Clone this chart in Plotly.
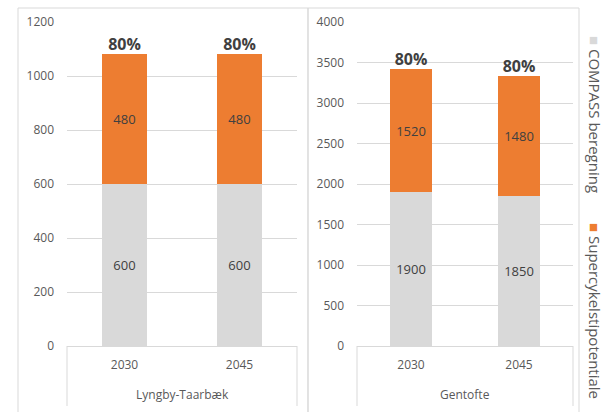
import plotly.graph_objects as go

# ---- data ----
years = ["2030", "2045"]
groups = ["Lyngby-Taarbæk", "Gentofte"]
series_names = ["COMPASS beregning", "Supercykelstipotentiale"]
compass = {"Lyngby-Taarbæk": [600, 600], "Gentofte": [1900, 1850]}
potential = {"Lyngby-Taarbæk": [480, 480], "Gentofte": [1520, 1480]}
pct_labels = {"Lyngby-Taarbæk": ["80%", "80%"], "Gentofte": ["80%", "80%"]}
y_ranges = {"Lyngby-Taarbæk": [0, 1200], "Gentofte": [0, 4000]}
y_dticks = {"Lyngby-Taarbæk": 200, "Gentofte": 500}

colors = ["#D9D9D9", "#ED7D31"]
W, H = 604, 412
FONT = "Open Sans"
TXT = "#595959"

def px(x):
    return x / W

def py(y):
    return 1 - y / H

x_domains = [[px(67), px(297)], [px(357), px(573)]]
y_domain = [py(346), py(22)]

fig = go.Figure()
for i, g in enumerate(groups):
    xa = "x" if i == 0 else "x2"
    ya = "y" if i == 0 else "y2"
    for s, vals, col in [(0, compass[g], colors[0]), (1, potential[g], colors[1])]:
        fig.add_trace(go.Bar(
            x=years, y=vals, name=series_names[s], marker_color=col,
            marker_line_width=0, width=0.39,
            text=[str(v) for v in vals], textposition="inside",
            insidetextanchor="middle", textangle=0, constraintext="none",
            textfont=dict(family=FONT, size=13, color="#404040"),
            xaxis=xa, yaxis=ya, showlegend=False, hoverinfo="skip",
        ))
    totals = [a + b for a, b in zip(compass[g], potential[g])]
    fig.add_trace(go.Scatter(
        x=years, y=totals, mode="text", text=pct_labels[g],
        textposition="top center",
        textfont=dict(family=FONT, size=16, color="#404040", weight="bold"),
        xaxis=xa, yaxis=ya, showlegend=False, hoverinfo="skip",
    ))

axis_common_x = dict(showline=True, linecolor="#D9D9D9", linewidth=1,
                     showgrid=False, ticks="", ticklabelstandoff=8,
                     tickfont=dict(family=FONT, size=12, color=TXT),
                     fixedrange=True, automargin=False)
axis_common_y = dict(showgrid=True, gridcolor="#D9D9D9", gridwidth=1,
                     zeroline=False, showline=False, ticks="",
                     ticklabelstandoff=12,
                     tickfont=dict(family=FONT, size=12, color=TXT),
                     domain=y_domain, fixedrange=True, automargin=False)

fig.update_layout(
    width=W, height=H, margin=dict(l=0, r=0, t=0, b=0, pad=0), autosize=False,
    paper_bgcolor="white", plot_bgcolor="white", barmode="stack",
    showlegend=False,
    xaxis=dict(domain=x_domains[0], anchor="y", **axis_common_x),
    xaxis2=dict(domain=x_domains[1], anchor="y2", **axis_common_x),
    yaxis=dict(anchor="x", range=y_ranges[groups[0]], dtick=y_dticks[groups[0]], **axis_common_y),
    yaxis2=dict(anchor="x2", range=y_ranges[groups[1]], dtick=y_dticks[groups[1]], **axis_common_y),
)

shapes = []
line = dict(color="#D9D9D9", width=1)
# panel borders
shapes.append(dict(type="rect", xref="paper", yref="paper", x0=px(18), x1=px(308), y0=py(420), y1=py(8), line=line))
shapes.append(dict(type="rect", xref="paper", yref="paper", x0=px(308), x1=px(579), y0=py(420), y1=py(8), line=line))
# category boxes
for xd in x_domains:
    for xv in xd:
        shapes.append(dict(type="line", xref="paper", yref="paper", x0=xv, x1=xv, y0=py(346), y1=py(406), line=line))
fig.update_layout(shapes=shapes)

annotations = []
for i, g in enumerate(groups):
    annotations.append(dict(text=g, xref="paper", yref="paper",
                            x=sum(x_domains[i]) / 2, y=py(394), showarrow=False,
                            xanchor="center", yanchor="middle",
                            font=dict(family=FONT, size=12, color=TXT)))
legend_centers = [114, 311]
for s, name in enumerate(series_names):
    annotations.append(dict(
        text=f"<span style='color:{colors[s]}'>■</span> {name}",
        xref="paper", yref="paper", x=px(595), y=py(legend_centers[s]),
        showarrow=False, textangle=90, xanchor="center", yanchor="middle",
        font=dict(family=FONT, size=15, color=TXT)))
fig.update_layout(annotations=annotations)

fig.write_html("out.html", config={"displayModeBar": False},
               post_script="document.body.style.margin='0';document.body.style.overflow='hidden';")
